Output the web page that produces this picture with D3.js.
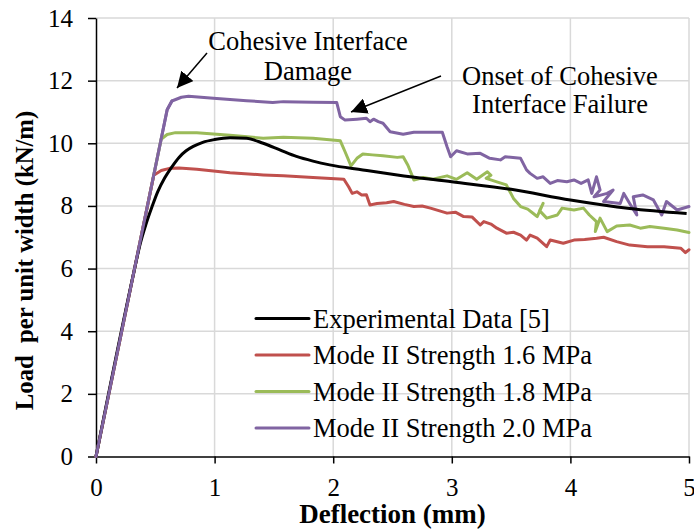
<!DOCTYPE html>
<html><head><meta charset="utf-8">
<script src="https://cdn.jsdelivr.net/npm/d3@7"></script>
<style>body{margin:0;background:#fff}svg{display:block}text{font-family:"Liberation Serif","Times New Roman",serif}</style>
</head><body><svg id="c" width="694" height="530"></svg>
<script>
// ---- data ----
const xTicks = [0,1,2,3,4,5];
const yTicks = [0,2,4,6,8,10,12,14];
const seriesNames = ["Experimental Data [5]","Mode II Strength 1.6 MPa","Mode II Strength 1.8 MPa","Mode II Strength 2.0 MPa"];
const seriesColors = ["#000000","#c0504d","#9bbb59","#8064a2"];

const expX = [0,0.32,0.37,0.42,0.47,0.52,0.58,0.64,0.7,0.76,0.82,0.9,1.0,1.13,1.27,1.41,1.55,1.69,1.83,1.97,2.25,2.54,3.0,3.5,4.0,4.5,4.98];
const expY = [0,5.9,6.75,7.4,7.95,8.45,8.9,9.25,9.55,9.76,9.9,10.03,10.12,10.18,10.16,10.0,9.79,9.58,9.43,9.31,9.15,8.99,8.77,8.53,8.19,7.92,7.76];

const m16X = [0,0.487,0.55,0.62,0.7,0.85,1.13,1.41,1.58,1.83,2.09,2.13,2.16,2.20,2.24,2.28,2.31,2.37,2.45,2.51,2.6,2.68,2.75,2.82,2.96,3.03,3.10,3.17,3.24,3.27,3.33,3.38,3.46,3.52,3.58,3.63,3.66,3.72,3.80,3.83,3.94,4.03,4.12,4.22,4.28,4.39,4.50,4.65,4.79,4.93,4.97,5.0];
const m16Y = [0,8.98,9.13,9.20,9.21,9.17,9.06,8.99,8.96,8.91,8.85,8.61,8.40,8.45,8.35,8.36,8.03,8.08,8.10,8.14,8.05,7.98,8.0,7.93,7.77,7.8,7.66,7.65,7.39,7.50,7.42,7.29,7.13,7.16,7.07,6.91,7.07,6.97,6.70,6.91,6.81,6.91,6.93,6.97,7.00,6.86,6.75,6.70,6.70,6.65,6.51,6.6];

const m18X = [0,0.549,0.6,0.67,0.85,1.13,1.41,1.58,1.83,2.06,2.10,2.15,2.20,2.25,2.33,2.42,2.54,2.59,2.63,2.68,2.76,2.84,2.96,3.04,3.13,3.21,3.30,3.33,3.29,3.38,3.46,3.52,3.58,3.64,3.69,3.72,3.77,3.74,3.80,3.89,3.93,4.03,4.11,4.16,4.22,4.21,4.25,4.31,4.39,4.50,4.59,4.67,4.79,4.90,5.0];
const m18Y = [0,10.13,10.28,10.34,10.34,10.26,10.16,10.19,10.16,10.08,9.73,9.28,9.52,9.66,9.63,9.60,9.55,9.57,9.3,8.83,8.91,8.85,8.96,8.85,9.06,8.85,9.09,8.98,8.88,8.77,8.67,8.24,7.98,7.9,7.75,7.66,8.08,7.85,7.61,7.71,7.93,7.87,7.93,7.71,7.50,7.18,7.61,7.18,7.36,7.39,7.29,7.34,7.29,7.23,7.15];

const m20X = [0,0.6,0.64,0.72,0.78,0.99,1.27,1.49,1.58,1.83,2.03,2.06,2.10,2.20,2.28,2.31,2.34,2.38,2.42,2.48,2.59,2.68,2.92,2.96,2.99,3.04,3.13,3.24,3.32,3.41,3.45,3.58,3.63,3.66,3.72,3.77,3.83,3.89,3.97,4.03,4.09,4.15,4.18,4.22,4.25,4.20,4.31,4.36,4.28,4.42,4.45,4.50,4.56,4.53,4.61,4.70,4.77,4.81,4.90,5.0];
const m20Y = [0,11.07,11.35,11.47,11.5,11.44,11.36,11.30,11.33,11.31,11.30,10.85,10.74,10.77,10.80,10.69,10.77,10.69,10.64,10.37,10.29,10.35,10.35,9.89,9.57,9.76,9.66,9.68,9.52,9.47,9.57,9.52,9.15,9.04,8.88,8.93,8.72,8.81,8.77,8.83,8.72,8.83,8.40,8.93,8.51,8.29,8.40,8.51,8.14,8.08,8.40,8.08,7.71,8.29,8.35,8.19,7.71,8.14,7.87,7.98];

// ---- chart ----
const svg = d3.select("#c");
const L=96, R=689, T=18, B=456.5;
const x = d3.scaleLinear().domain([0,5]).range([L,R]);
const y = d3.scaleLinear().domain([0,14]).range([B,T]);
const font = '"Liberation Serif","Times New Roman",serif';

// grid
svg.append("g").selectAll("line").data(yTicks.filter(d=>d>0)).join("line")
  .attr("x1",L).attr("x2",R).attr("y1",d=>y(d)).attr("y2",d=>y(d))
  .attr("stroke","#d9d9d9").attr("stroke-width",1.5);
svg.append("g").selectAll("line").data(xTicks.filter(d=>d>0)).join("line")
  .attr("y1",T).attr("y2",B).attr("x1",d=>x(d)).attr("x2",d=>x(d))
  .attr("stroke","#d9d9d9").attr("stroke-width",1.5);

// axes
const xa = svg.append("g").attr("transform",`translate(0,${B})`)
  .call(d3.axisBottom(x).tickValues(xTicks).tickFormat(d3.format("d")).tickSize(7).tickSizeOuter(0));
xa.selectAll("text").attr("y",22).attr("font-size",25).attr("font-family",font).attr("fill","#000");
const ya = svg.append("g").attr("transform",`translate(${L},0)`)
  .call(d3.axisLeft(y).tickValues(yTicks).tickFormat(d3.format("d")).tickSize(8).tickSizeOuter(0));
ya.selectAll("text").attr("x",-23).attr("font-size",25).attr("font-family",font).attr("fill","#000");
svg.selectAll(".domain,.tick line").attr("stroke","#000").attr("stroke-width",1.5);

// series
const allX=[expX,m16X,m18X,m20X], allY=[expY,m16Y,m18Y,m20Y];
const line = d3.line().x(d=>x(d[0])).y(d=>y(d[1]));
const smooth = d3.line().x(d=>x(d[0])).y(d=>y(d[1])).curve(d3.curveMonotoneX);
[3,2,1].forEach(i=>{
  const pts = allX[i].map((v,j)=>[v,allY[i][j]]);
  svg.append("path").datum(pts).attr("d",line).attr("fill","none")
    .attr("stroke",seriesColors[i]).attr("stroke-width",3).attr("stroke-linejoin","round").attr("stroke-linecap","round");
});
{
  const pts = expX.map((v,j)=>[v,expY[j]]);
  svg.append("path").datum(pts).attr("d",smooth).attr("fill","none")
    .attr("stroke",seriesColors[0]).attr("stroke-width",3).attr("stroke-linejoin","round");
}
// purple linear rise sits on top near origin
{
  const pts = m20X.slice(0,3).map((v,j)=>[v,m20Y[j]]);
  svg.append("path").datum(pts).attr("d",line).attr("fill","none")
    .attr("stroke",seriesColors[3]).attr("stroke-width",3).attr("stroke-linejoin","round").attr("stroke-linecap","round");
}

// legend
const lg = svg.append("g");
seriesNames.forEach((n,i)=>{
  const cy = 318.5 + i*36.5;
  lg.append("line").attr("x1",256).attr("x2",309).attr("y1",cy).attr("y2",cy)
    .attr("stroke",seriesColors[i]).attr("stroke-width",3).attr("stroke-linecap","round");
  lg.append("text").attr("x",313).attr("y",cy+9).attr("font-size",26.5).attr("fill","#000").text(n);
});

// axis titles
svg.append("text").attr("x",(L+R)/2).attr("y",523).attr("text-anchor","middle")
  .attr("font-size",27).attr("font-weight","bold").text("Deflection (mm)");
svg.append("text").attr("transform","translate(33,260.5) rotate(-90)").attr("text-anchor","middle")
  .attr("font-size",24.7).attr("font-weight","bold").attr("xml:space","preserve").style("white-space","pre").text("Load  per unit width (kN/m)");

// annotations
const defs = svg.append("defs");
defs.append("marker").attr("id","ah").attr("viewBox","0 0 10 10").attr("refX",10).attr("refY",5)
  .attr("markerWidth",16).attr("markerHeight",16).attr("markerUnits","userSpaceOnUse").attr("orient","auto")
  .append("path").attr("d","M0,0 L10,5 L0,10 Z").attr("fill","#000");
svg.append("text").attr("x",308).attr("y",50).attr("text-anchor","middle").attr("font-size",26.5).text("Cohesive Interface");
svg.append("text").attr("x",308).attr("y",80).attr("text-anchor","middle").attr("font-size",26.5).text("Damage");
svg.append("line").attr("x1",207).attr("y1",53).attr("x2",177).attr("y2",88)
  .attr("stroke","#000").attr("stroke-width",1.5).attr("marker-end","url(#ah)");
svg.append("text").attr("x",560).attr("y",85).attr("text-anchor","middle").attr("font-size",26.5).text("Onset of Cohesive");
svg.append("text").attr("x",560).attr("y",113).attr("text-anchor","middle").attr("font-size",26.5).text("Interface Failure");
svg.append("line").attr("x1",441).attr("y1",76).attr("x2",351).attr("y2",112)
  .attr("stroke","#000").attr("stroke-width",1.5).attr("marker-end","url(#ah)");
</script></body></html>
